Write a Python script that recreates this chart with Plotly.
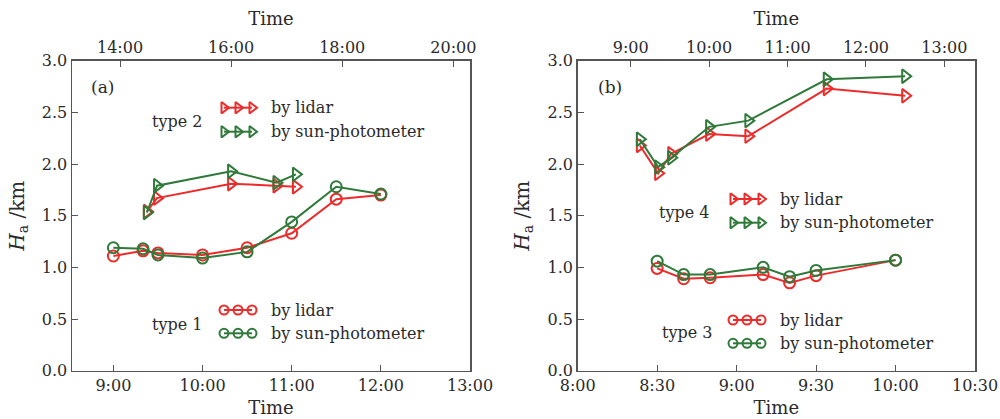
import plotly.graph_objects as go

# ---------------- data ----------------
# Panel (a), type 1 (bottom time axis)
t1_times = ["9:00", "9:20", "9:30", "10:00", "10:30", "11:00", "11:30", "12:00"]
t1_lidar = [1.11, 1.16, 1.14, 1.12, 1.19, 1.33, 1.66, 1.70]
t1_sun = [1.19, 1.18, 1.12, 1.09, 1.15, 1.44, 1.78, 1.71]

# Panel (a), type 2 (top time axis)
t2_times = ["14:29", "14:40", "16:00", "16:49", "17:10"]
t2_lidar = [1.54, 1.67, 1.81, 1.79, 1.78]
t2_sun = [1.53, 1.79, 1.93, 1.82, 1.90]

# Panel (b), type 3 (bottom time axis)
t3_times = ["8:30", "8:40", "8:50", "9:10", "9:20", "9:30", "10:00"]
t3_lidar = [0.99, 0.89, 0.90, 0.93, 0.85, 0.92, 1.07]
t3_sun = [1.06, 0.93, 0.93, 1.00, 0.91, 0.97, 1.07]

# Panel (b), type 4 (top time axis)
t4_times = ["9:07", "9:21", "9:31", "10:00", "10:30", "11:30", "12:30"]
t4_lidar = [2.18, 1.91, 2.10, 2.29, 2.27, 2.73, 2.66]
t4_sun = [2.24, 1.97, 2.06, 2.36, 2.42, 2.82, 2.85]

# tick labels
a_bottom_ticks = ["9:00", "10:00", "11:00", "12:00", "13:00"]
a_top_ticks = ["14:00", "16:00", "18:00", "20:00"]
b_bottom_ticks = ["8:00", "8:30", "9:00", "9:30", "10:00", "10:30"]
b_top_ticks = ["9:00", "10:00", "11:00", "12:00", "13:00"]
y_ticks = [0.0, 0.5, 1.0, 1.5, 2.0, 2.5, 3.0]


def hours(s):
    h, m = s.split(":")
    return int(h) + int(m) / 60.0


RED = "#ee2b2b"
GREEN = "#2f7a3a"
TXT = "#2a2a2a"
AXC = "#555555"
FONT = "DejaVu Serif"
FS = 16

fig = go.Figure()


def series(x, y, color, symbol, xa, ya, size):
    fig.add_trace(go.Scatter(
        x=[hours(s) for s in x], y=y, mode="lines+markers",
        line=dict(color=color, width=2),
        marker=dict(symbol=symbol, size=size, color=color,
                    line=dict(color=color, width=2)),
        xaxis=xa, yaxis=ya, showlegend=False, hoverinfo="skip"))


series(t1_times, t1_lidar, RED, "circle-open", "x", "y", 11)
series(t1_times, t1_sun, GREEN, "circle-open", "x", "y", 11)
series(t2_times, t2_lidar, RED, "triangle-right-open", "x2", "y", 12)
series(t2_times, t2_sun, GREEN, "triangle-right-open", "x2", "y", 12)
series(t3_times, t3_lidar, RED, "circle-open", "x3", "y2", 11)
series(t3_times, t3_sun, GREEN, "circle-open", "x3", "y2", 11)
series(t4_times, t4_lidar, RED, "triangle-right-open", "x4", "y2", 12)
series(t4_times, t4_sun, GREEN, "triangle-right-open", "x4", "y2", 12)

# ---------------- custom legends (pixel overlay axis x5/y3) ----------------
legends = [
    # (glyph x start, y lidar, y sun, symbol, type label, type x, type y)
    (220, 107.7, 131.7, "triangle-right-open", "type 2", 177, 121.7),
    (220, 310.0, 333.3, "circle-open", "type 1", 177, 324.0),
    (729, 199.0, 222.7, "triangle-right-open", "type 4", 684, 212.3),
    (729, 320.0, 343.3, "circle-open", "type 3", 687, 332.7),
]
annotations = []
for gx, yl, ys, sym, lab, tx, ty in legends:
    sz = 9 if sym == "circle-open" else 10
    for yy, col in ((yl, RED), (ys, GREEN)):
        fig.add_trace(go.Scatter(
            x=[gx + 4, gx + 18, gx + 32], y=[yy] * 3, mode="lines+markers",
            line=dict(color=col, width=2),
            marker=dict(symbol=sym, size=sz, color=col, line=dict(color=col, width=2)),
            xaxis="x5", yaxis="y3", showlegend=False, hoverinfo="skip"))
    annotations.append(dict(x=gx + 49, y=yl, xref="x5", yref="y3", text="by lidar",
                            showarrow=False, xanchor="left", yanchor="middle",
                            font=dict(family=FONT, size=FS, color=TXT)))
    annotations.append(dict(x=gx + 49, y=ys, xref="x5", yref="y3", text="by sun-photometer",
                            showarrow=False, xanchor="left", yanchor="middle",
                            font=dict(family=FONT, size=FS, color=TXT)))
    annotations.append(dict(x=tx, y=ty, xref="x5", yref="y3", text=lab,
                            showarrow=False, xanchor="center", yanchor="middle",
                            font=dict(family=FONT, size=FS, color=TXT)))

annotations.append(dict(x=102, y=86.5, xref="x5", yref="y3", text="(a)", showarrow=False,
                        font=dict(family=FONT, size=17, color=TXT)))
annotations.append(dict(x=610, y=86.5, xref="x5", yref="y3", text="(b)", showarrow=False,
                        font=dict(family=FONT, size=17, color=TXT)))

W, H = 1000, 419
ytop, ybot = 60.7, 370.7
ydom = [1 - ybot / H, 1 - ytop / H]
adom = [72 / W, 470 / W]
bdom = [577.7 / W, 975 / W]

tickfont = dict(family=FONT, size=FS, color=TXT)
titlefont = dict(family=FONT, size=18, color=TXT)


def xax(dom, rng, labels, side, overlay=None, anchor="y"):
    d = dict(range=rng, tickvals=[hours(s) for s in labels], ticktext=labels,
             ticks="inside", ticklen=6, tickwidth=1, tickcolor=AXC,
             showline=True, linecolor=AXC, linewidth=1.5, showgrid=False, zeroline=False,
             tickfont=tickfont, side=side, anchor=anchor, automargin=False,
             title=dict(text="Time", font=titlefont, standoff=7))
    if overlay:
        d["overlaying"] = overlay
    else:
        d["domain"] = dom
    return d


def yax(dom, anchor):
    return dict(domain=dom, range=[0, 3], tickvals=y_ticks, tickformat=".1f",
                ticks="inside", ticklen=6, tickwidth=1, tickcolor=AXC,
                showline=True, mirror=True, linecolor=AXC, linewidth=1.5,
                showgrid=False, zeroline=False, tickfont=tickfont, anchor=anchor,
                automargin=False,
                title=dict(text="<i>H</i><sub>a</sub> /km",
                           font=dict(family=FONT, size=20, color=TXT), standoff=12))


fig.update_layout(
    width=W, height=H,
    template="none",
    margin=dict(l=0, r=0, t=0, b=0, autoexpand=False),
    paper_bgcolor="white", plot_bgcolor="rgba(0,0,0,0)",
    xaxis=xax(adom, [8.536, 13.0], a_bottom_ticks, "bottom"),
    xaxis2=xax(adom, [13.136, 20.30], a_top_ticks, "top", overlay="x"),
    xaxis3=xax(bdom, [8.0, 10.5], b_bottom_ticks, "bottom", anchor="y2"),
    xaxis4=xax(bdom, [8.324, 13.39], b_top_ticks, "top", overlay="x3", anchor="y2"),
    yaxis=yax(ydom, "x"),
    yaxis2=yax(ydom, "x3"),
    xaxis5=dict(domain=[0, 1], range=[0, W], visible=False, fixedrange=True, anchor="y3"),
    yaxis3=dict(domain=[0, 1], range=[H, 0], visible=False, fixedrange=True, anchor="x5"),
    annotations=annotations,
    font=dict(family=FONT, size=FS, color=TXT),
)

fig.write_html("out.html", config={"displayModeBar": False, "staticPlot": True},
               post_script="document.body.style.margin='0';document.body.style.padding='0';"
                           "document.body.style.overflow='hidden';")
